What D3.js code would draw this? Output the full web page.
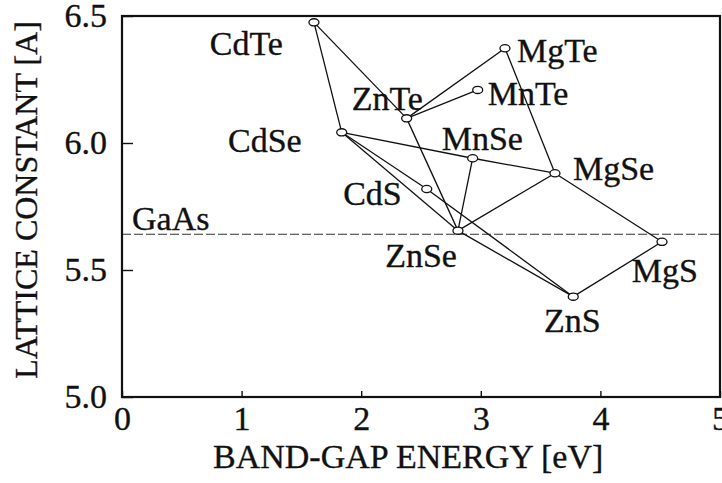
<!DOCTYPE html>
<html>
<head>
<meta charset="utf-8">
<script src="https://cdn.jsdelivr.net/npm/d3@7"></script>
<style>
  html, body { margin: 0; padding: 0; background: #fff; }
  svg { display: block; }
</style>
</head>
<body>
<svg id="chart" width="722" height="483"></svg>
<script>
// II-VI compounds: band-gap energy (eV) vs lattice constant (A)
const compounds = ["CdTe", "CdSe", "ZnTe", "MnTe", "MgTe", "MnSe", "MgSe", "CdS", "ZnSe", "MgS", "ZnS"];
const bandGap   = [1.605, 1.837, 2.380, 2.974, 3.202, 2.932, 3.620, 2.548, 2.809, 4.515, 3.773];
const lattice   = [6.475, 6.042, 6.097, 6.209, 6.373, 5.940, 5.881, 5.819, 5.655, 5.611, 5.395];

// alloy tie lines between compounds
const tieLines = [
  ["CdTe", "CdSe"], ["CdTe", "ZnTe"],
  ["ZnTe", "MgTe"], ["ZnTe", "MnTe"], ["ZnTe", "ZnSe"],
  ["CdSe", "MnSe"], ["MnSe", "MgSe"], ["CdSe", "ZnSe"],
  ["CdSe", "CdS"], ["CdS", "ZnS"],
  ["ZnSe", "MnSe"], ["ZnSe", "MgSe"], ["ZnSe", "ZnS"],
  ["MgTe", "MgSe"], ["MgSe", "MgS"], ["MgS", "ZnS"]
];

// GaAs substrate lattice constant
const gaAsLattice = 5.641;

const xTicks = [0, 1, 2, 3, 4, 5];
const yTicks = [5.0, 5.5, 6.0, 6.5];

// label placement relative to each marker
const labelPlace = {
  CdTe: { anchor: "end",    dx: -31, dy: 33 },
  CdSe: { anchor: "end",    dx: -40, dy: 20 },
  ZnTe: { anchor: "start",  dx: -55, dy: -8 },
  MnTe: { anchor: "start",  dx: 10,  dy: 15 },
  MgTe: { anchor: "start",  dx: 12,  dy: 14 },
  MnSe: { anchor: "start",  dx: -31, dy: -8 },
  MgSe: { anchor: "start",  dx: 18,  dy: 7 },
  CdS:  { anchor: "end",    dx: -25, dy: 16 },
  ZnSe: { anchor: "end",    dx: -1,  dy: 36 },
  MgS:  { anchor: "end",    dx: 36,  dy: 40 },
  ZnS:  { anchor: "middle", dx: -1,  dy: 35 }
};

const serif = '"Liberation Serif"';
const fontSize = 34;

function serifText(sel, size) {
  return sel.style("font-family", serif)
    .style("font-size", (size || fontSize) + "px")
    .style("fill", "#111")
    .style("stroke", "#111")
    .style("stroke-width", "0.35px");
}

const points = compounds.map((name, i) => ({ name, eg: bandGap[i], a: lattice[i] }));
const byName = new Map(points.map(p => [p.name, p]));

const svg = d3.select("#chart");
const plotLeft = 122, plotRight = 720, plotTop = 16, plotBottom = 397;

const x = d3.scaleLinear().domain([0, 5]).range([plotLeft, plotRight]);
const y = d3.scaleLinear().domain([5.0, 6.5]).range([plotBottom, plotTop]);

// axes with inward ticks
const xAxis = svg.append("g")
  .attr("transform", `translate(0,${plotBottom})`)
  .call(d3.axisBottom(x).tickValues(xTicks).tickFormat(d3.format("d"))
    .tickSizeInner(-6).tickSizeOuter(0).tickPadding(9));
const yAxis = svg.append("g")
  .attr("transform", `translate(${plotLeft},0)`)
  .call(d3.axisLeft(y).tickValues(yTicks).tickFormat(d3.format(".1f"))
    .tickSizeInner(-11).tickSizeOuter(0).tickPadding(15));

[xAxis, yAxis].forEach(g => {
  g.select(".domain").remove();
  g.selectAll(".tick line").attr("stroke", "#111").attr("stroke-width", 1.4);
  serifText(g.selectAll(".tick text"));
});

// GaAs reference line
svg.append("line")
  .attr("x1", x(0)).attr("x2", x(5))
  .attr("y1", y(gaAsLattice)).attr("y2", y(gaAsLattice))
  .attr("stroke", "#333").attr("stroke-width", 1.1)
  .attr("stroke-dasharray", "9,3");
serifText(svg.append("text")
  .attr("x", x(0) + 10).attr("y", y(gaAsLattice) - 4))
  .text("GaAs");

// tie lines
svg.append("g").selectAll("line").data(tieLines).join("line")
  .attr("x1", d => x(byName.get(d[0]).eg)).attr("y1", d => y(byName.get(d[0]).a))
  .attr("x2", d => x(byName.get(d[1]).eg)).attr("y2", d => y(byName.get(d[1]).a))
  .attr("stroke", "#111").attr("stroke-width", 1.3);

// compound markers
svg.append("g").selectAll("ellipse").data(points).join("ellipse")
  .attr("cx", d => x(d.eg)).attr("cy", d => y(d.a))
  .attr("rx", 5).attr("ry", 3.6)
  .attr("fill", "#fff").attr("stroke", "#111").attr("stroke-width", 1.3);

// compound labels
serifText(svg.append("g").selectAll("text").data(points).join("text")
  .attr("x", d => x(d.eg) + labelPlace[d.name].dx)
  .attr("y", d => y(d.a) + labelPlace[d.name].dy)
  .attr("text-anchor", d => labelPlace[d.name].anchor))
  .text(d => d.name);

// plot frame
svg.append("rect")
  .attr("x", plotLeft).attr("y", plotTop)
  .attr("width", plotRight - plotLeft).attr("height", plotBottom - plotTop)
  .attr("fill", "none").attr("stroke", "#111").attr("stroke-width", 2.2);

// axis titles
serifText(svg.append("text")
  .attr("x", 213).attr("y", 468))
  .text("BAND-GAP ENERGY [eV]");
serifText(svg.append("text")
  .attr("transform", "translate(37,200) rotate(-90)")
  .attr("text-anchor", "middle"), 32)
  .text("LATTICE CONSTANT [A]");
</script>
</body>
</html>
